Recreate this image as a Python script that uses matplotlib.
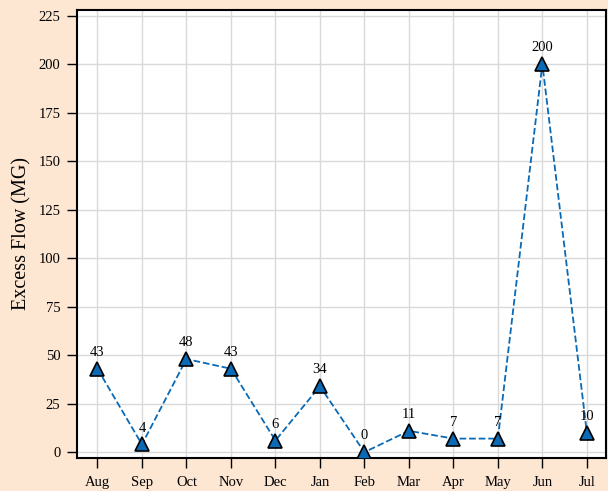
import matplotlib
matplotlib.use('Agg')
from matplotlib import pyplot as plt

months = ['Aug', 'Sep', 'Oct', 'Nov', 'Dec', 'Jan', 'Feb', 'Mar', 'Apr', 'May', 'Jun', 'Jul']
excess_flow = [43, 4, 48, 43, 6, 34, 0, 11, 7, 7, 200, 10]
y_ticks = [0, 25, 50, 75, 100, 125, 150, 175, 200, 225]

plt.rcParams['font.family'] = ['Liberation Serif', 'DejaVu Serif']

fig = plt.figure(figsize=(6.08, 4.91), dpi=100, facecolor='#fde6d2')
ax = fig.add_axes([0.1266, 0.0672, 0.8701, 0.9130])
ax.set_facecolor('white')

x = list(range(len(months)))
ax.plot(x, excess_flow, linestyle='--', color='#0a6ab5', linewidth=1.3,
        marker='^', markersize=10, markerfacecolor='#0a6ab5',
        markeredgecolor='black', markeredgewidth=1.2, zorder=3)

for xi, v in zip(x, excess_flow):
    ax.annotate(str(v), (xi, v), xytext=(0, 7), textcoords='offset points',
                ha='center', va='bottom', fontsize=10.5, zorder=4)

ax.set_xticks(x)
ax.set_xticklabels(months)
ax.set_yticks(y_ticks)
ax.set_xlim(-0.46, 11.43)
ax.set_ylim(-3, 228)
ax.grid(True, color='#d9d9d9', linewidth=1)
ax.set_axisbelow(True)
ax.tick_params(direction='out', length=7, width=1, labelsize=10.5, pad=5)
ax.tick_params(axis='x', pad=6)
for s in ax.spines.values():
    s.set_linewidth(1.5)
ax.set_ylabel('Excess Flow (MG)', fontsize=14.5, labelpad=5)

fig.savefig('out.png', dpi=100, facecolor=fig.get_facecolor())
